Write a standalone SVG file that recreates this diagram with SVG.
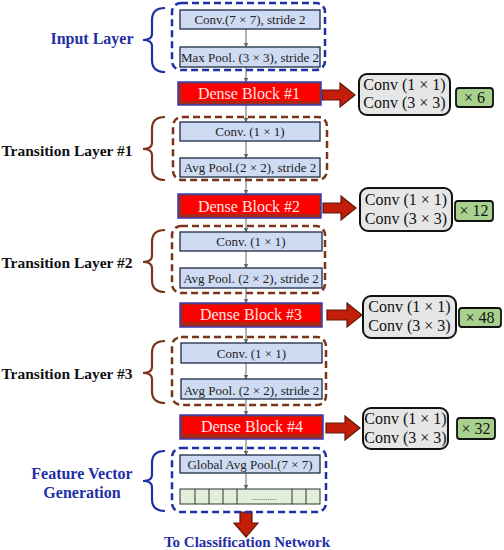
<svg xmlns="http://www.w3.org/2000/svg" width="504" height="550" viewBox="0 0 504 550">
<defs>
<marker id="ah" viewBox="0 0 10 10" refX="9" refY="5" markerWidth="5" markerHeight="5" orient="auto"><path d="M0,0 L10,5 L0,10 z" fill="#666"/></marker>
<style>
.lb{fill:#cfdbf3;stroke:#1d2b45;stroke-width:1.3}
.lt{font-family:"Liberation Serif",serif;font-size:13px;fill:#222;text-anchor:middle}
.dbo{fill:#a8281a;stroke:#3b3bb0;stroke-width:1.5}
.dbi{fill:#ff0000}
.dt{font-family:"Liberation Serif",serif;font-size:16px;fill:#ffe4e4;text-anchor:middle}
.gb{fill:#e6e6e6;stroke:#111;stroke-width:2}
.gt{font-family:"Liberation Serif",serif;font-size:16px;fill:#111;text-anchor:middle}
.grb{fill:#a9d18e;stroke:#111;stroke-width:1.8}
.bd{fill:none;stroke:#1f2fa6;stroke-width:2.5;stroke-dasharray:7,4}
.rd{fill:none;stroke:#7a3418;stroke-width:2.5;stroke-dasharray:7,4}
.bt{font-family:"Liberation Serif",serif;font-size:16px;font-weight:bold;fill:#1f2fa6;text-anchor:middle}
.kt{font-family:"Liberation Serif",serif;font-size:15.5px;font-weight:bold;fill:#111;text-anchor:middle}
.ba{fill:#c41e0a;stroke:#5a1a0a;stroke-width:1.2}
.cn{stroke:#666;stroke-width:1;fill:none}
.bb{fill:none;stroke:#1f2fa6;stroke-width:2.2}
.br{fill:none;stroke:#7a3418;stroke-width:2.2}
</style>
</defs>

<g id="connectors">
<line class="cn" x1="246" y1="29" x2="246" y2="47" marker-end="url(#ah)"/>
<line class="cn" x1="246" y1="67" x2="246" y2="82" marker-end="url(#ah)"/>
<line class="cn" x1="246" y1="105" x2="246" y2="122" marker-end="url(#ah)"/>
<line class="cn" x1="246" y1="141" x2="246" y2="158" marker-end="url(#ah)"/>
<line class="cn" x1="246" y1="177" x2="246" y2="194" marker-end="url(#ah)"/>
<line class="cn" x1="246" y1="218" x2="246" y2="232" marker-end="url(#ah)"/>
<line class="cn" x1="246" y1="251" x2="246" y2="268" marker-end="url(#ah)"/>
<line class="cn" x1="246" y1="288" x2="246" y2="303" marker-end="url(#ah)"/>
<line class="cn" x1="246" y1="327" x2="246" y2="343" marker-end="url(#ah)"/>
<line class="cn" x1="246" y1="363" x2="246" y2="379" marker-end="url(#ah)"/>
<line class="cn" x1="246" y1="399" x2="246" y2="415" marker-end="url(#ah)"/>
<line class="cn" x1="246" y1="439" x2="246" y2="455" marker-end="url(#ah)"/>
<line class="cn" x1="246" y1="473" x2="246" y2="489" marker-end="url(#ah)"/>
<path class="ba" d="M322,90 H340 V83 L355,95 L340,107 V100 H322 Z"/>
<path class="ba" d="M323,203 H341 V196 L356,208 L341,220 V213 H323 Z"/>
<path class="ba" d="M327,310 H347 V303 L362,315 L347,327 V320 H327 Z"/>
<path class="ba" d="M326,423 H345 V416 L360,428 L345,440 V433 H326 Z"/>
<path class="ba" d="M240,512 H252 V523 H258 L246,537 L234,523 H240 Z"/>
</g>

<g id="input-layer">
<rect class="bd" x="172" y="3" width="153" height="67" rx="9"/>
<path class="bb" d="M165,8 Q152,8 152,20 V34 Q152,40 143,40 Q152,40 152,46 V60 Q152,72 165,72"/>
<text class="bt" x="92" y="44">Input Layer</text>
</g>
<g id="conv77"><rect class="lb" x="180" y="10" width="140" height="19"/><text class="lt" x="250" y="24">Conv.(7 × 7), stride 2</text></g>
<g id="maxpool"><rect class="lb" x="180" y="47" width="140" height="20"/><text class="lt" x="250" y="62">Max Pool. (3 × 3), stride 2</text></g>

<g id="dense1"><rect class="dbo" x="178" y="82" width="143" height="23"/><rect class="dbi" x="182" y="84" width="137" height="17"/><text class="dt" x="249" y="99">Dense Block #1</text></g>
<g id="dense1-detail"><rect class="gb" x="359" y="74" width="91" height="41" rx="8"/><text class="gt" x="404.5" y="90">Conv (1 × 1)</text><text class="gt" x="404.5" y="108">Conv (3 × 3)</text></g>
<g id="rep6"><rect class="grb" x="456" y="88" width="37" height="19" rx="3"/><text class="gt" x="474.5" y="103">× 6</text></g>

<g id="transition1">
<rect class="rd" x="173" y="117" width="154" height="63" rx="9"/>
<path class="br" d="M165,117 Q152,117 152,129 V143 Q152,149 143,149 Q152,149 152,155 V168 Q152,180 165,180"/>
<text class="kt" x="67" y="156">Transition Layer #1</text>
</g>
<g id="t1-conv"><rect class="lb" x="180" y="122" width="140" height="19"/><text class="lt" x="250" y="136">Conv. (1 × 1)</text></g>
<g id="t1-pool"><rect class="lb" x="180" y="158" width="140" height="19"/><text class="lt" x="250" y="172">Avg Pool.(2 × 2), stride 2</text></g>

<g id="dense2"><rect class="dbo" x="178" y="194" width="143" height="24"/><rect class="dbi" x="182" y="196" width="137" height="18"/><text class="dt" x="249" y="212">Dense Block #2</text></g>
<g id="dense2-detail"><rect class="gb" x="360" y="188" width="92" height="43" rx="8"/><text class="gt" x="406" y="205">Conv (1 × 1)</text><text class="gt" x="406" y="224">Conv (3 × 3)</text></g>
<g id="rep12"><rect class="grb" x="455" y="201" width="38" height="20" rx="3"/><text class="gt" x="474" y="216">× 12</text></g>

<g id="transition2">
<rect class="rd" x="172" y="226" width="153" height="67" rx="9"/>
<path class="br" d="M165,230 Q152,230 152,242 V256 Q152,262 143,262 Q152,262 152,268 V280 Q152,292 165,292"/>
<text class="kt" x="67" y="268">Transition Layer #2</text>
</g>
<g id="t2-conv"><rect class="lb" x="180" y="232" width="142" height="19"/><text class="lt" x="251" y="246">Conv. (1 × 1)</text></g>
<g id="t2-pool"><rect class="lb" x="180" y="268" width="142" height="20"/><text class="lt" x="251" y="283">Avg Pool. (2 × 2), stride 2</text></g>

<g id="dense3"><rect class="dbo" x="180" y="303" width="142" height="24"/><rect class="dbi" x="183" y="305" width="137" height="17"/><text class="dt" x="251" y="320">Dense Block #3</text></g>
<g id="dense3-detail"><rect class="gb" x="363" y="296" width="93" height="42" rx="8"/><text class="gt" x="409.5" y="312">Conv (1 × 1)</text><text class="gt" x="409.5" y="331">Conv (3 × 3)</text></g>
<g id="rep48"><rect class="grb" x="459" y="308" width="42" height="19" rx="3"/><text class="gt" x="480" y="323">× 48</text></g>

<g id="transition3">
<rect class="rd" x="172" y="337" width="154" height="68" rx="9"/>
<path class="br" d="M165,341 Q152,341 152,353 V367 Q152,373 143,373 Q152,373 152,379 V391 Q152,403 165,403"/>
<text class="kt" x="67" y="379">Transition Layer #3</text>
</g>
<g id="t3-conv"><rect class="lb" x="181" y="343" width="141" height="20"/><text class="lt" x="251.5" y="358">Conv. (1 × 1)</text></g>
<g id="t3-pool"><rect class="lb" x="181" y="379" width="141" height="20"/><text class="lt" x="251.5" y="395">Avg Pool. (2 × 2), stride 2</text></g>

<g id="dense4"><rect class="dbo" x="180" y="415" width="143" height="24"/><rect class="dbi" x="183" y="417" width="138" height="17"/><text class="dt" x="252" y="432">Dense Block #4</text></g>
<g id="dense4-detail"><rect class="gb" x="363" y="408" width="85" height="41" rx="8"/><text class="gt" x="405.5" y="424">Conv (1 × 1)</text><text class="gt" x="405.5" y="443">Conv (3 × 3)</text></g>
<g id="rep32"><rect class="grb" x="457" y="418" width="38" height="21" rx="3"/><text class="gt" x="476" y="434">× 32</text></g>

<g id="feature-vector">
<rect class="bd" x="172" y="448" width="154" height="64" rx="9"/>
<path class="bb" d="M165,451 Q152,451 152,463 V475 Q152,481 143,481 Q152,481 152,487 V499 Q152,511 165,511"/>
<text class="bt" x="82" y="479">Feature Vector</text>
<text class="bt" x="82" y="498">Generation</text>
</g>
<g id="gap"><rect class="lb" x="180" y="455" width="140" height="18"/><text class="lt" x="250" y="469">Global Avg Pool.(7 × 7)</text></g>
<g id="vector">
<rect x="180" y="489" width="140" height="15" fill="#e2efda" stroke="#333" stroke-width="1"/>
<path d="M195,489 V504 M209,489 V504 M223,489 V504 M237,489 V504 M292,489 V504 M306,489 V504" stroke="#333" stroke-width="1"/>
<text x="264" y="500" font-family="Liberation Serif, serif" font-size="9" fill="#333" text-anchor="middle">...........</text>
</g>
<g id="output"><text class="bt" x="247" y="547" style="font-size:15px">To Classification Network</text></g>
</svg>
